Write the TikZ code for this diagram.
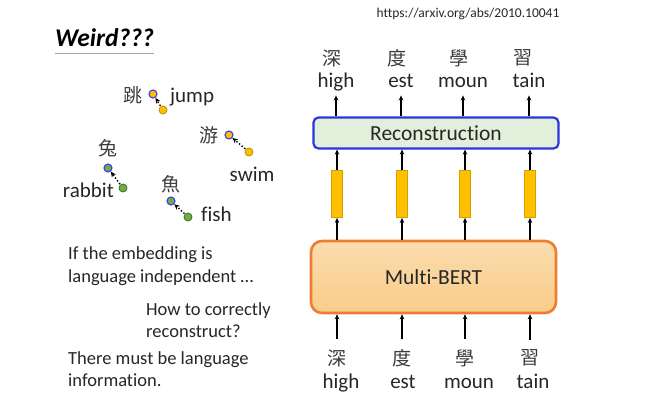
\documentclass[tikz,border=0pt]{standalone}
\usepackage{fontspec}
\setmainfont[Ligatures=NoCommon]{Carlito}
\newfontfamily\cjkfont{Noto Sans CJK TC}
\usepackage{xcolor}
\usetikzlibrary{arrows.meta,positioning}
\definecolor{ink}{HTML}{262626}
\definecolor{inkgray}{HTML}{3C3C3C}
\definecolor{rulegray}{HTML}{A6A6A6}
\definecolor{dotblue}{HTML}{3B3BE8}
\definecolor{gold}{HTML}{FFC000}
\definecolor{golddark}{HTML}{B98C00}
\definecolor{leaf}{HTML}{70AD47}
\definecolor{leafdark}{HTML}{3F6E23}
\definecolor{recfill}{HTML}{E2EFDA}
\definecolor{recline}{HTML}{2A35E0}
\definecolor{bertfill}{HTML}{F9CC8A}
\definecolor{berttop}{HTML}{FBDDAE}
\definecolor{bertline}{HTML}{ED7D31}
\definecolor{barline}{HTML}{D9A000}
\tikzset{
  urltext/.style={font=\fontsize{13.5}{16}\selectfont,text=ink,inner sep=0pt},
  title/.style={font=\fontsize{25.5}{28}\selectfont\bfseries\itshape,text=black,inner sep=0pt},
  hz/.style={font=\cjkfont\fontsize{19}{22}\selectfont,text=inkgray,inner sep=0pt},
  lbl/.style={font=\fontsize{21}{24}\selectfont,text=ink,inner sep=0pt},
  word/.style={font=\fontsize{21}{24}\selectfont,text=ink,inner sep=0pt,
               text height=14pt,text depth=4.5pt},
  note/.style={font=\fontsize{18.5}{22.5}\selectfont,text=ink,align=left,
               inner sep=0pt,anchor=west},
  srcdot/.style={circle,fill=#1,draw=dotblue,line width=1.1pt,
                 minimum size=8pt,inner sep=0pt},
  tgtdot/.style={circle,fill=#1,draw=#1dark,line width=0.8pt,
                 minimum size=8pt,inner sep=0pt},
  dotarr/.style={-{Stealth[length=5.5pt,width=5pt]},dotted,line width=1.4pt,
                 draw=black,shorten <=0.5pt,shorten >=0pt},
  upar/.style={-{Stealth[length=5pt,width=4.5pt]},line width=1.3pt,draw=black},
  recbox/.style={draw=recline,fill=recfill,line width=2.2pt,rounded corners=5pt,
                 minimum width=245pt,minimum height=31pt,
                 font=\fontsize{21.5}{24}\selectfont,text=ink},
  bertbox/.style={draw=bertline,top color=berttop,bottom color=bertfill,
                  line width=2.6pt,rounded corners=11pt,
                  minimum width=245pt,minimum height=72pt,
                  font=\fontsize{21.5}{24}\selectfont,text=ink},
  vecbar/.style={draw=barline,fill=gold,line width=0.8pt,
                 minimum width=11pt,minimum height=47pt,inner sep=0pt}
}
\begin{document}
\begin{tikzpicture}[x=1pt,y=-1pt]
    \path[use as bounding box] (0,0) rectangle (645,402);
    \node[urltext] (url) at (468,14) {https://arxiv.org/abs/2010.10041};
    \node[title,anchor=west] (weird) at (55,38) {Weird???};
    \draw[rulegray,line width=1.2pt] ([yshift=-6pt]weird.south west) -- ([yshift=-6pt]weird.south east);

    % embeddings: source word vs. reconstructed word
    \node[hz] (tiao) at (133,95) {跳};
    \node[srcdot=gold] (tiaoE) at (153,94) {};
    \node[tgtdot=gold] (jumpE) at (163,110) {};
    \node[lbl,anchor=west] (jump) at (170,97) {jump};
    \draw[dotarr] (jumpE) -- (tiaoE);

    \node[hz] (you) at (209,135) {游};
    \node[srcdot=gold] (youE) at (229,135) {};
    \node[tgtdot=gold] (swimE) at (249,152) {};
    \node[lbl] (swim) at (252,174) {swim};
    \draw[dotarr] (swimE) -- (youE);

    \node[hz] (tu) at (108,148) {兔};
    \node[srcdot=leaf] (tuE) at (108,168) {};
    \node[tgtdot=leaf] (rabbitE) at (123,188) {};
    \node[lbl,anchor=east] (rabbit) at (114,190) {rabbit};
    \draw[dotarr] (rabbitE) -- (tuE);

    \node[hz] (yu) at (171,184) {魚};
    \node[srcdot=leaf] (yuE) at (171,201) {};
    \node[tgtdot=leaf] (fishE) at (188,217) {};
    \node[lbl,anchor=west] (fish) at (201,214) {fish};
    \draw[dotarr] (fishE) -- (yuE);

    \node[note] (indep) at (68,266) {If the embedding is\\language independent …};
    \node[note] (how) at (146,320) {How to correctly\\reconstruct?};
    \node[note] (must) at (68,369) {There must be language\\information.};

    % model
    \node[recbox] (recon) at (436,133) {Reconstruction};
    \node[bertbox] (bert) at (433.5,277) {Multi-BERT};

    \node[vecbar] (v1) at (337,194) {};
    \node[vecbar] (v2) at (402,194) {};
    \node[vecbar] (v3) at (465,194) {};
    \node[vecbar] (v4) at (530,194) {};

    \node[hz] (oshen) at (332,58) {深};
    \node[hz] (odu) at (397,58) {度};
    \node[hz] (oxue) at (459,58) {學};
    \node[hz] (oxi) at (523,58) {習};
    \node[word] (ohigh) at (336,83) {high};
    \node[word] (oest) at (401,83) {est};
    \node[word] (omoun) at (463,83) {moun};
    \node[word] (otain) at (529,83) {tain};

    \node[hz] (ishen) at (337,358) {深};
    \node[hz] (idu) at (402,358) {度};
    \node[hz] (ixue) at (465,358) {學};
    \node[hz] (ixi) at (530,358) {習};
    \node[word] (ihigh) at (341,384) {high};
    \node[word] (iest) at (403,384) {est};
    \node[word] (imoun) at (469,384) {moun};
    \node[word] (itain) at (533,384) {tain};

    \draw[upar] (recon.north -| ohigh) -- ([yshift=-3pt]ohigh.south);
    \draw[upar] (recon.north -| oest) -- ([yshift=-3pt]oest.south);
    \draw[upar] (recon.north -| omoun) -- ([yshift=-3pt]omoun.south);
    \draw[upar] (recon.north -| otain) -- ([yshift=-3pt]otain.south);

    \draw[upar] (v1.north) -- (recon.south -| v1);
    \draw[upar] (v2.north) -- (recon.south -| v2);
    \draw[upar] (v3.north) -- (recon.south -| v3);
    \draw[upar] (v4.north) -- (recon.south -| v4);

    \draw[upar] (bert.north -| v1) -- (v1.south);
    \draw[upar] (bert.north -| v2) -- (v2.south);
    \draw[upar] (bert.north -| v3) -- (v3.south);
    \draw[upar] (bert.north -| v4) -- (v4.south);

    \draw[upar,shorten <=10pt] (ishen.north) -- (bert.south -| ishen);
    \draw[upar,shorten <=10pt] (idu.north) -- (bert.south -| idu);
    \draw[upar,shorten <=10pt] (ixue.north) -- (bert.south -| ixue);
    \draw[upar,shorten <=10pt] (ixi.north) -- (bert.south -| ixi);
\end{tikzpicture}
\end{document}
